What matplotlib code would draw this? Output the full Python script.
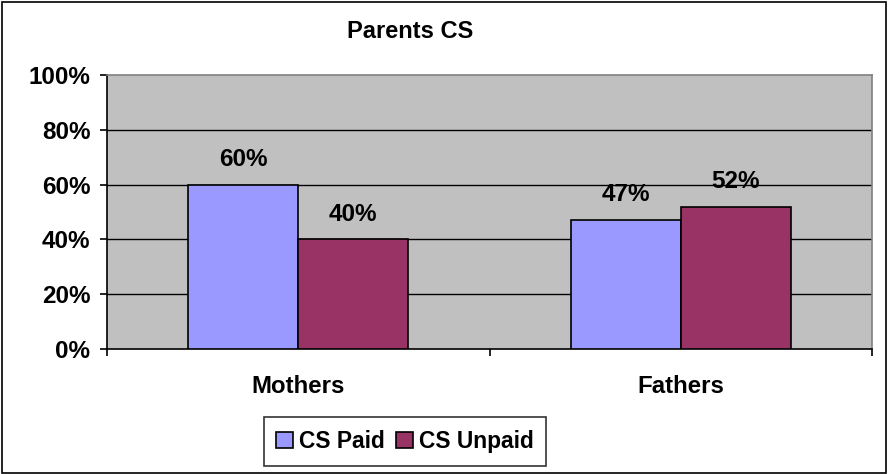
import matplotlib
matplotlib.use("Agg")
import matplotlib.pyplot as plt
from matplotlib.patches import Rectangle
import numpy as np

categories = ["Mothers", "Fathers"]
series_names = ["CS Paid", "CS Unpaid"]
cs_paid = [60, 47]
cs_unpaid = [40, 52]
y_ticks = [0, 20, 40, 60, 80, 100]
y_tick_labels = ["0%", "20%", "40%", "60%", "80%", "100%"]
colors = ["#9999FF", "#993366"]

plt.rcParams['font.family'] = ['Liberation Sans', 'DejaVu Sans']
plt.rcParams['font.weight'] = 'bold'
FS = 17.5
FS_CAT = 17.3
FS_LEG = 16.4
FS_TITLE = 17

W, H = 888, 474
fig = plt.figure(figsize=(W / 100, H / 100), dpi=100)
fig.patch.set_facecolor("white")

# outer border
fig.patches.append(Rectangle((2 / W, 1 / H), 884 / W, 471 / H, transform=fig.transFigure,
                             fill=False, edgecolor="black", linewidth=1.2))

left, right, top, bottom = 107, 872, 75, 349
ax = fig.add_axes([left / W, 1 - bottom / H, (right - left) / W, (bottom - top) / H])
ax.set_facecolor("#C0C0C0")

x = np.arange(len(categories))
w = 0.287
b1 = ax.bar(x - w / 2, cs_paid, w, color=colors[0], edgecolor="black", linewidth=1.2,
            label=series_names[0], zorder=3)
b2 = ax.bar(x + w / 2, cs_unpaid, w, color=colors[1], edgecolor="black", linewidth=1.2,
            label=series_names[1], zorder=3)

for bars, vals in ((b1, cs_paid), (b2, cs_unpaid)):
    for rect, v in zip(bars, vals):
        ax.annotate(f"{v}%", (rect.get_x() + rect.get_width() / 2, rect.get_height()),
                    xytext=(0, 13.5), textcoords="offset points", ha="center",
                    va="baseline", fontsize=FS, fontweight="bold", zorder=4)

ax.set_ylim(0, 100)
ax.set_xlim(-0.5, len(categories) - 0.5)
ax.set_yticks(y_ticks)
ax.set_yticklabels(y_tick_labels, fontsize=FS, fontweight="bold")
for yv in y_ticks[1:-1]:
    ax.axhline(yv, color="black", linewidth=1, zorder=1)

ax.set_xticks(x)
ax.set_xticklabels(categories, fontsize=FS_CAT, fontweight="bold")
ax.tick_params(axis="x", which="major", length=0, pad=19)
ax.set_xticks(np.arange(-0.5, len(categories)), minor=True)
ax.tick_params(axis="x", which="minor", length=5, width=1.2, direction="out", color="black")
ax.tick_params(axis="y", length=5, width=1.2, direction="out", pad=7, color="black")

for s in ("top", "right"):
    ax.spines[s].set_color("#808080")
    ax.spines[s].set_linewidth(1.2)
for s in ("left", "bottom"):
    ax.spines[s].set_color("black")
    ax.spines[s].set_linewidth(1.2)

fig.text(410 / W, 1 - 31 / H, "Parents CS", ha="center", va="center",
         fontsize=FS_TITLE, fontweight="bold")

leg = fig.legend(handles=[b1, b2], labels=series_names, loc="center",
                 bbox_to_anchor=(405 / W, 1 - 441.5 / H), ncol=2, frameon=True,
                 fancybox=False, edgecolor="black", fontsize=FS_LEG,
                 handlelength=0.75, handleheight=0.75, handletextpad=0.25,
                 columnspacing=0.5, borderpad=0.55, borderaxespad=0)
leg.get_frame().set_linewidth(1.2)
for t in leg.get_texts():
    t.set_fontweight("bold")

fig.savefig("out.png", dpi=100)
